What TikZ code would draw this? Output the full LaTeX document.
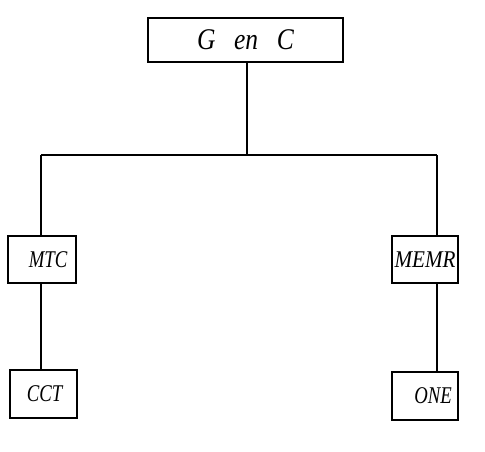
\documentclass[tikz,border=0pt]{standalone}
\usepackage{graphicx}
\usepackage{fontspec}
\setmainfont{Liberation Serif}
\usetikzlibrary{positioning}
% condensed italic lettering used inside the boxes
\newcommand{\boxtext}[2][0.78]{\scalebox{#1}[1]{\itshape\fontsize{12}{14}\selectfont #2}}
\begin{document}
\begin{tikzpicture}[x=0.5pt,y=-0.5pt,
  unit/.style={draw, line width=0.7pt, rectangle, inner sep=0pt},
  link/.style={line width=0.6pt}]
  \useasboundingbox (0,0) rectangle (485,451);
  % organisational boxes
  \node[unit, minimum width=97.5pt, minimum height=22pt] (gc) at (245.5,40)
    {\scalebox{0.85}[1]{\itshape\fontsize{15}{17}\selectfont G\hspace{11pt}en\hspace{11pt}C}};
  \node[unit, minimum width=34pt, minimum height=23.5pt] (mtc) at (42,259.5) {\hspace{6pt}\boxtext{MTC}};
  \node[unit, minimum width=33.5pt, minimum height=24pt] (cct) at (43.5,394) {\hspace{1pt}\boxtext{CCT}};
  \node[unit, minimum width=33pt, minimum height=23.5pt] (memr) at (425,259.5) {\boxtext[0.88]{MEMR}};
  \node[unit, minimum width=33pt, minimum height=24pt] (one) at (425,396) {\hspace{8pt}\boxtext{ONE}};
  % branching point and corners
  \coordinate (fork) at (247,155);
  \coordinate (lc) at (41,155);
  \coordinate (rc) at (437,155);
  \draw[link] (gc.south -| fork) -- (fork);
  \draw[link] (lc) -- (rc);
  \draw[link] (lc) -- (lc |- mtc.north);
  \draw[link] (rc) -- (rc |- memr.north);
  \draw[link] (lc |- mtc.south) -- (lc |- cct.north);
  \draw[link] (rc |- memr.south) -- (rc |- one.north);
\end{tikzpicture}
\end{document}
